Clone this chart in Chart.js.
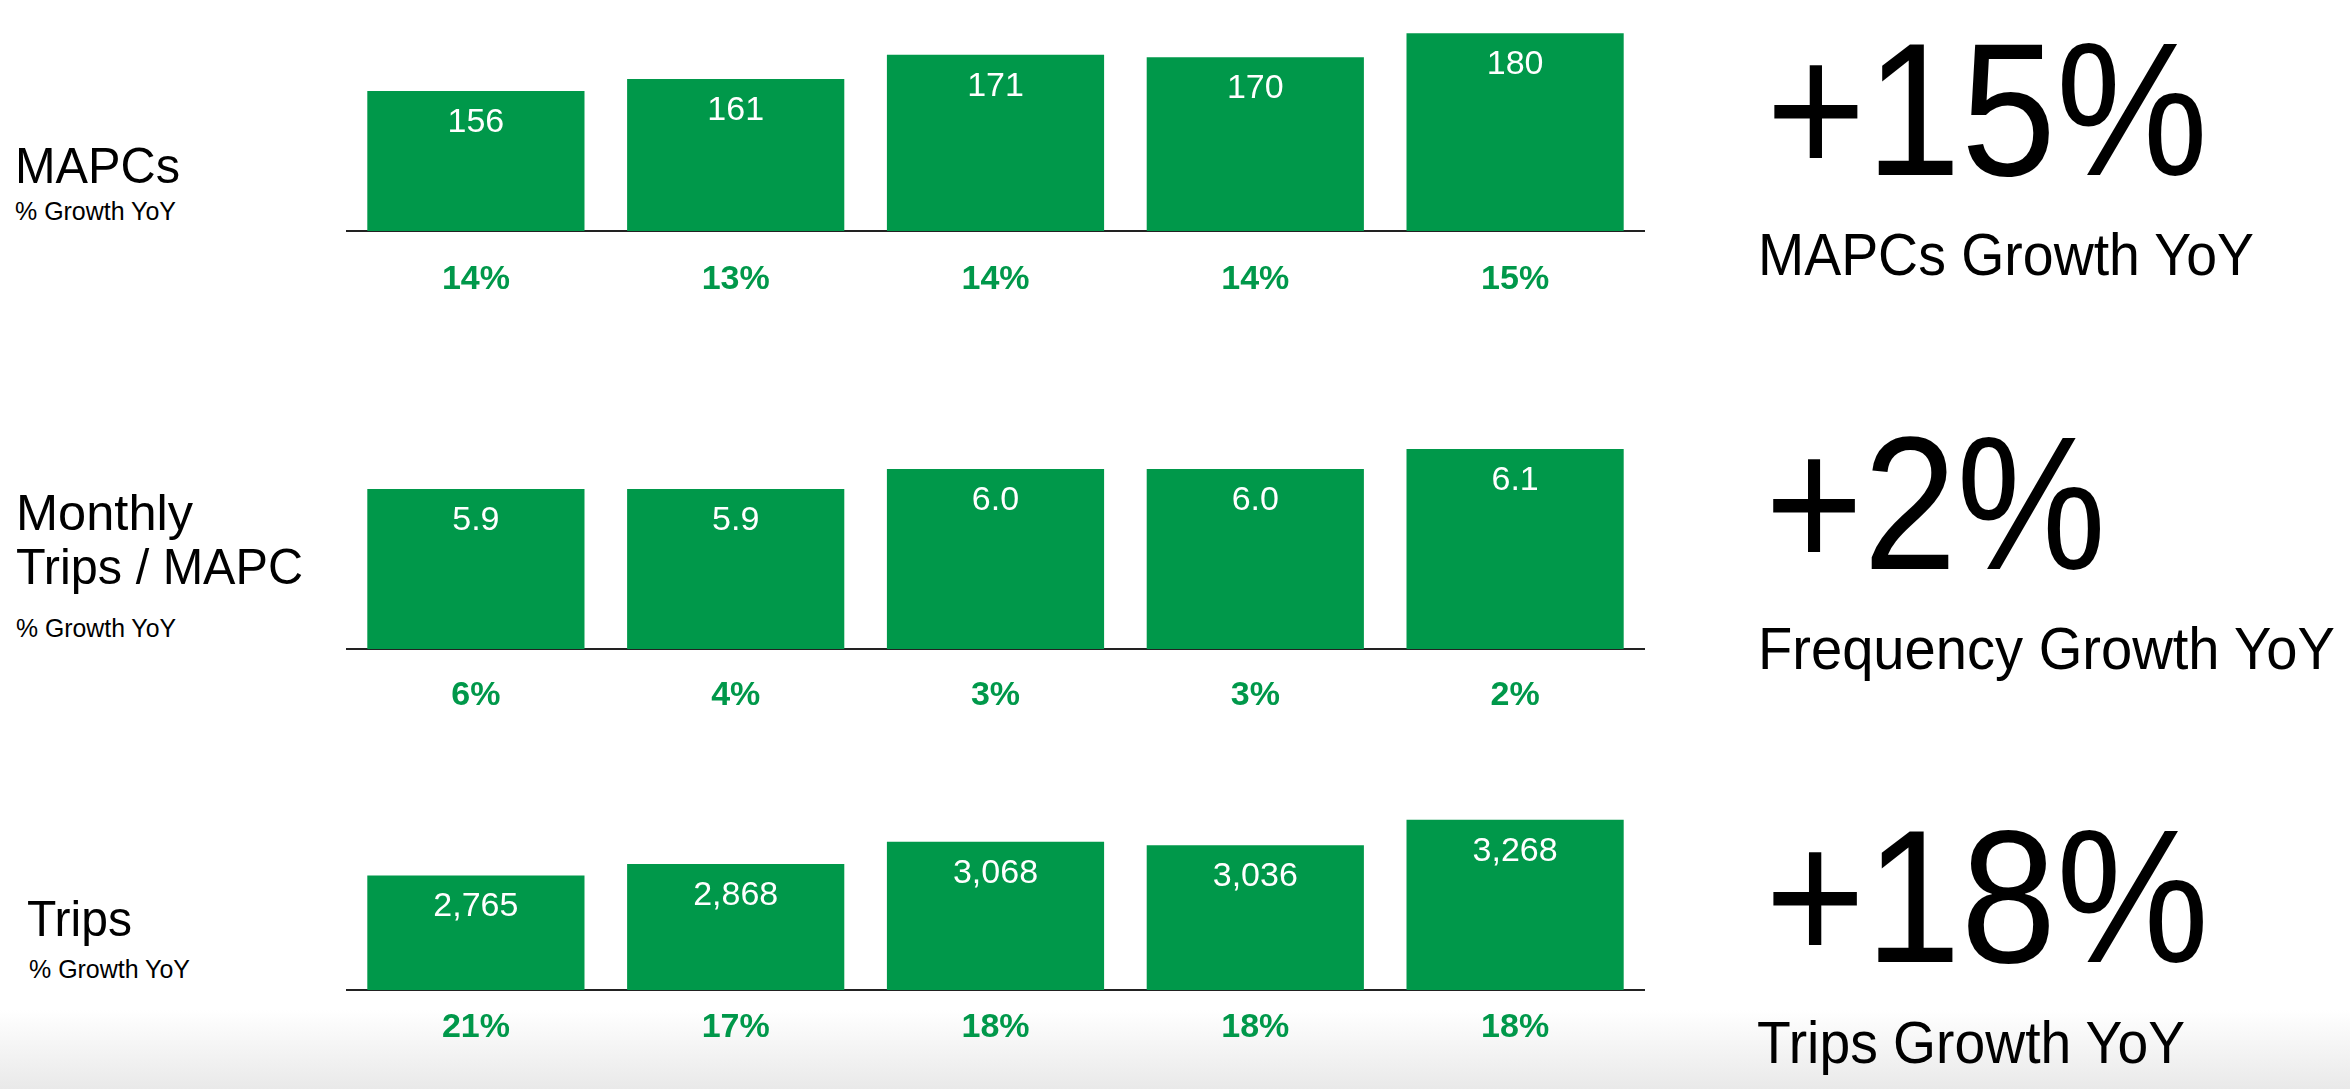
<!DOCTYPE html>
<html><head><meta charset="utf-8">
<script src="https://cdn.jsdelivr.net/npm/chart.js@4.4.1/dist/chart.umd.min.js"></script>
<style>
html,body{margin:0;padding:0;}
body{width:2350px;height:1089px;position:relative;overflow:hidden;background:linear-gradient(to bottom,#fff 0px,#fff 1010px,#e9e9e9 1089px);font-family:'Liberation Sans',Arial,sans-serif;}
.cw{position:absolute;left:346px;width:1299px;}
.t{position:absolute;white-space:nowrap;line-height:1;color:#000;transform-origin:0 0;}
</style></head><body>
<div class="cw" id="w1"><canvas id="c1"></canvas></div>
<div class="cw" id="w2"><canvas id="c2"></canvas></div>
<div class="cw" id="w3"><canvas id="c3"></canvas></div>
<script>
// ---- data ----
const mapcValues = [156, 161, 171, 170, 180];
const mapcGrowth = ['14%', '13%', '14%', '14%', '15%'];
const freqValues = [5.9, 5.9, 6.0, 6.0, 6.1];
const freqGrowth = ['6%', '4%', '3%', '3%', '2%'];
const tripValues = [2765, 2868, 3068, 3036, 3268];
const tripGrowth = ['21%', '17%', '18%', '18%', '18%'];

const GREEN = '#00984a';
const AXIS_H = 72;

function makeChart(id, wrapId, values, growth, fmt, yMin, yMax, plotH, baseline, tickPad) {
  const wrap = document.getElementById(wrapId);
  wrap.style.top = (baseline - plotH) + 'px';
  wrap.style.height = (plotH + AXIS_H) + 'px';
  const labelPlugin = {
    id: 'valueLabels_' + id,
    afterDatasetsDraw(chart) {
      const ctx = chart.ctx;
      const meta = chart.getDatasetMeta(0);
      ctx.save();
      ctx.font = '34px "Liberation Sans", Arial, sans-serif';
      ctx.fillStyle = '#ffffff';
      ctx.textAlign = 'center';
      ctx.textBaseline = 'alphabetic';
      meta.data.forEach((bar, i) => {
        ctx.fillText(fmt(chart.data.datasets[0].data[i]), bar.x, bar.y + 41);
      });
      ctx.restore();
    }
  };
  return new Chart(document.getElementById(id), {
    type: 'bar',
    data: {
      labels: growth,
      datasets: [{ data: values, backgroundColor: GREEN, borderWidth: 0,
                   categoryPercentage: 1.0, barPercentage: 0.836 }]
    },
    options: {
      responsive: true, maintainAspectRatio: false, animation: false,
      devicePixelRatio: 1,
      layout: { padding: 0 },
      plugins: { legend: { display: false }, tooltip: { enabled: false } },
      scales: {
        x: {
          grid: { display: false, drawTicks: false, tickLength: 0 },
          border: { display: true, color: '#222222', width: 2 },
          ticks: { color: GREEN, padding: tickPad,
                   font: { family: '"Liberation Sans", Arial, sans-serif', size: 34, weight: 'bold' } },
          afterFit: (s) => { s.height = AXIS_H; }
        },
        y: { display: false, min: yMin, max: yMax, grid: { display: false } }
      }
    },
    plugins: [labelPlugin]
  });
}

makeChart('c1', 'w1', mapcValues, mapcGrowth, v => String(v), 98, 190, 222, 231, 28);
makeChart('c2', 'w2', freqValues, freqGrowth, v => v.toFixed(1), 5.1, 6.2, 220, 649, 26);
makeChart('c3', 'w3', tripValues, tripGrowth, v => v.toLocaleString('en-US'), 1732, 3400, 185, 990, 17);

function place(text, x, baseline, size, weight, width) {
  const d = document.createElement('div');
  d.className = 't';
  d.textContent = text;
  d.style.fontSize = size + 'px';
  d.style.fontWeight = weight;
  d.style.left = x + 'px';
  d.style.top = (baseline - 0.8465 * size) + 'px';
  document.body.appendChild(d);
  const w = d.getBoundingClientRect().width;
  if (w > 0) d.style.transform = 'scaleX(' + (width / w) + ')';
}
// left labels
place('MAPCs', 15, 183, 50, 400, 165);
place('% Growth YoY', 15, 220, 25, 400, 161);
place('Monthly', 16, 530, 50, 400, 177);
place('Trips / MAPC', 16, 584, 50, 400, 287);
place('% Growth YoY', 16, 637, 25, 400, 160);
place('Trips', 27, 936, 50, 400, 105);
place('% Growth YoY', 29, 978, 25, 400, 161);
// right headline figures
place('+15%', 1766, 175, 190, 400, 442);
place('MAPCs Growth YoY', 1758, 276, 60, 400, 496);
place('+2%', 1765, 569, 190, 400, 341);
place('Frequency Growth YoY', 1758, 670, 60, 400, 577);
place('+18%', 1765, 962, 190, 400, 444);
place('Trips Growth YoY', 1757, 1064, 60, 400, 428);
</script>
</body></html>
